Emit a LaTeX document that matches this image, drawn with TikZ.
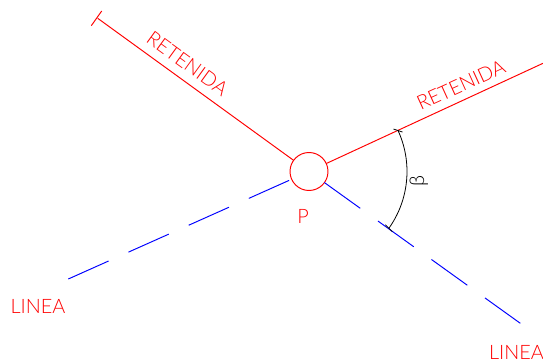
\documentclass[tikz,border=0pt]{standalone}
\usepackage{fontspec}
\setmainfont{Lato Light}
\usetikzlibrary{calc}
\tikzset{
  retenida/.style={red, line width=0.55pt},
  linea/.style={blue, line width=0.55pt, dash pattern=on 25.1pt off 12.4pt},
  rotulo/.style={red, inner sep=0pt, font=\fontsize{11.3}{14}\selectfont},
}
\begin{document}
\begin{tikzpicture}
    \useasboundingbox (0,0) rectangle (10.86,7.24);
    % punto
    \node [retenida, draw, circle, minimum size=0.76cm, inner sep=0pt, outer sep=0pt] (p) at (6.18,3.81) {};
    \node [rotulo] (plabel) at (6.06,2.91) {P};
    % retenidas
    \coordinate (retizq) at (1.954,6.874);
    \coordinate (retizqa) at (2.034,7.02);
    \coordinate (retizqb) at (1.826,6.726);
    \coordinate (retder) at (10.86,5.974);
    \draw [retenida] (p) -- (retizq);
    \draw [retenida] (retizqa) -- (retizqb);
    \draw [retenida] (p) -- (retder);
    \node [rotulo, rotate=-36] (retizqlabel) at (3.75,5.97) {RETENIDA};
    \node [rotulo, rotate=24.5] (retderlabel) at (9.22,5.54) {RETENIDA};
    % lineas
    \coordinate (linizq) at (1.366,1.66);
    \coordinate (linder) at (10.406,0.774);
    \draw [linea] (linizq) -- (p);
    \draw [linea] (p) -- (linder);
    \node [rotulo] (linizqlabel) at (0.76,1.106) {LINEA};
    \node [rotulo] (linderlabel) at (10.33,0.2) {LINEA};
    % angulo
    \coordinate (arcoa) at ($(p.center)+(-35.4:1.96)$);
    \coordinate (arcob) at ($(p.center)+(24.7:1.96)$);
    \draw [line width=0.45pt] (arcoa) arc (-35.4:24.7:1.96);
    \draw [line width=0.45pt] ($(arcoa)+(-0.07,0.07)$) -- ($(arcoa)+(0.07,-0.07)$);
    \draw [line width=0.45pt] ($(arcob)+(-0.09,0.03)$) -- ($(arcob)+(0.09,-0.03)$);
    \node [rotate=90, inner sep=0pt, font=\fontsize{11.5}{14}\selectfont] (beta) at (8.38,3.62) {β};
\end{tikzpicture}
\end{document}
